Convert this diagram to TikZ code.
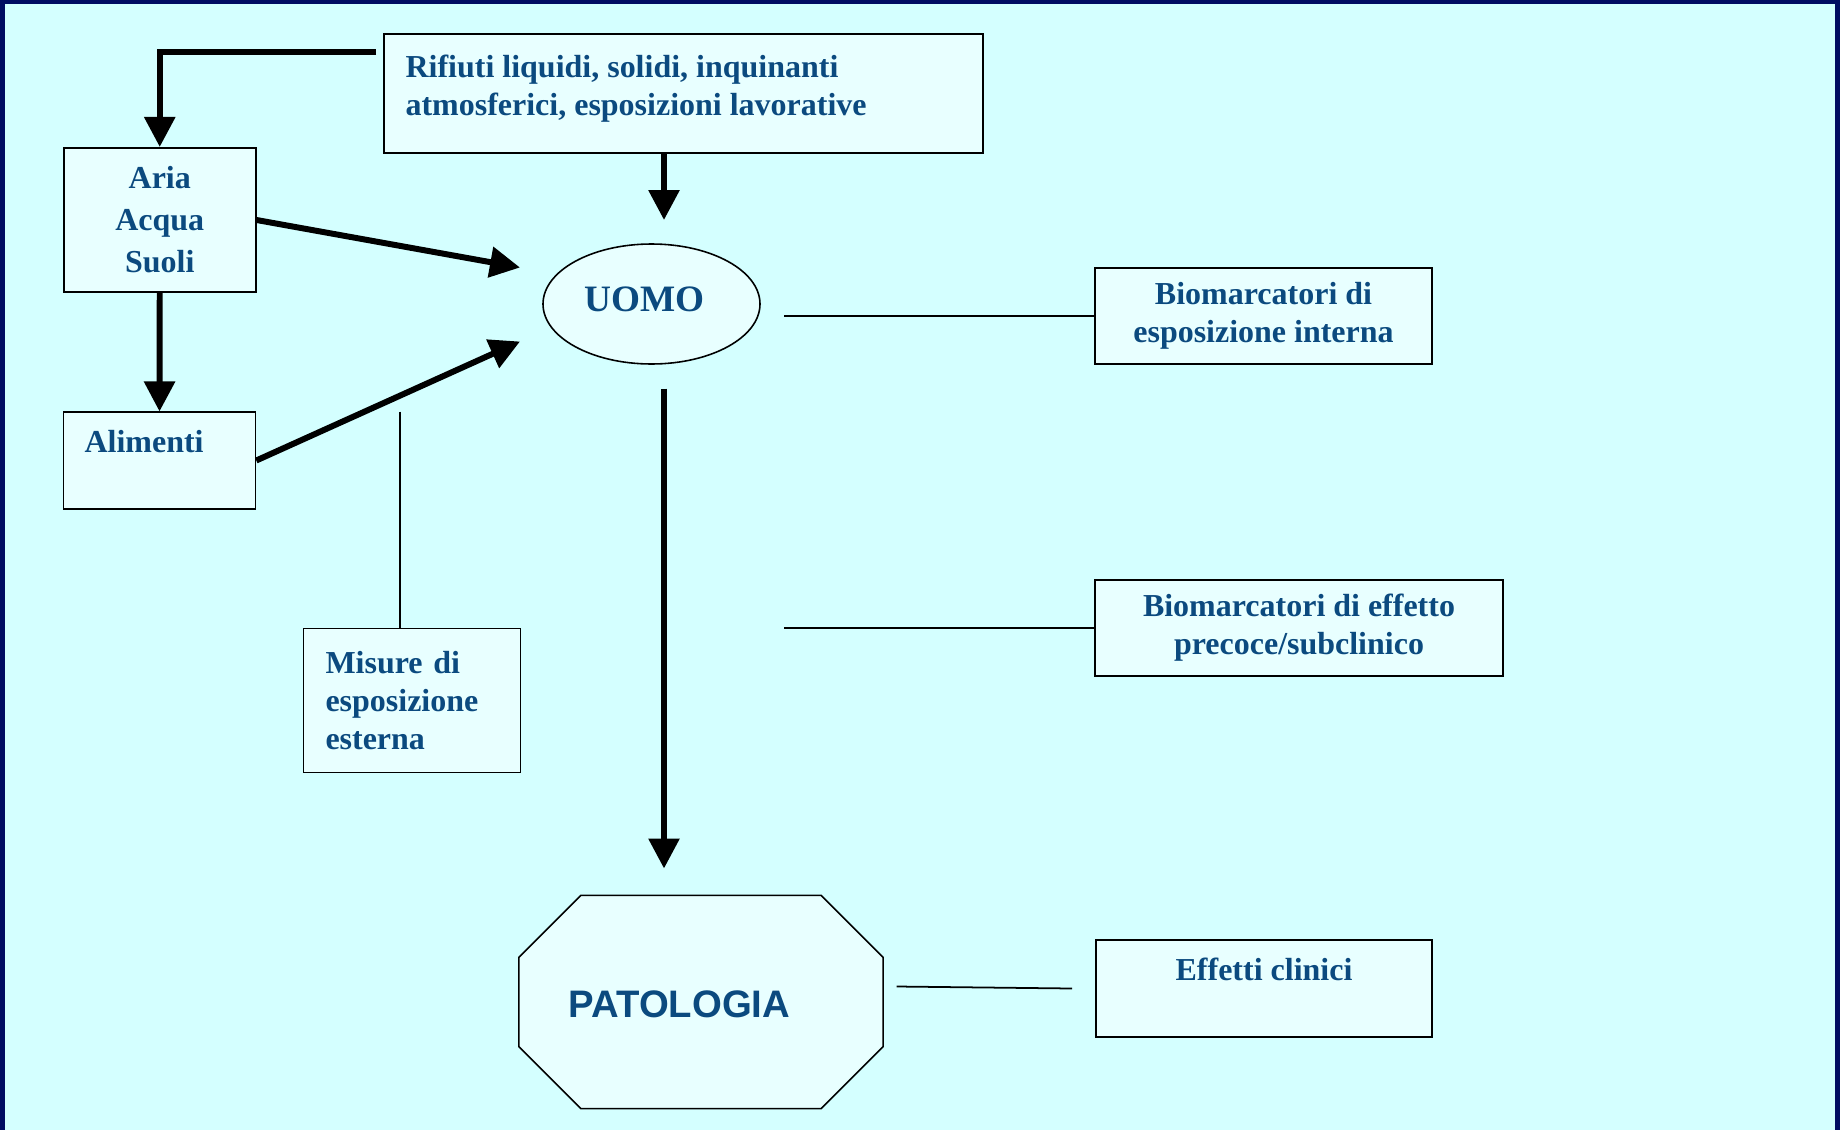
\documentclass[tikz,border=0pt]{standalone}
\usepackage{fontspec}
\setmainfont{Liberation Serif}
\newfontfamily\patfont{Liberation Sans}
\usepackage{tikz}
\usetikzlibrary{positioning,arrows.meta,calc,shapes.geometric}
\definecolor{framenavy}{HTML}{000C62}
\definecolor{bgcyan}{HTML}{D4FFFF}
\definecolor{nodefill}{HTML}{E8FFFF}
\definecolor{labelblue}{HTML}{0B4A7F}

\tikzset{
  box/.style={draw=black,line width=0.9pt,fill=nodefill,inner sep=0pt},
  boxtext/.style={font=\bfseries\fontsize{18.2}{21.6}\selectfont,text=labelblue,inner sep=0pt},
  flow/.style={line width=3.4pt,-{Triangle[width=0.6cm,length=0.6cm]}},
  tie/.style={line width=1pt}
}

\begin{document}
\begin{tikzpicture}

\useasboundingbox (0,0) rectangle (36.8,-22.6);
\fill[framenavy] (0,0) rectangle (36.8,-22.6);
\fill[bgcyan] (0.1,-0.08) rectangle (36.7,-22.6);

\node[box,minimum width=11.98cm,minimum height=2.38cm] (rifiuti) at (13.67,-1.87) {};
\node[boxtext,anchor=west,align=left] (rifiutitext)
      at ($(rifiuti.north west)+(0.44,-1.10)$)
{Rifiuti liquidi, solidi, inquinanti\\
atmosferici, esposizioni lavorative};

\node[box,boxtext,font=\bfseries\fontsize{18.2}{23.9}\selectfont,align=center,
      minimum width=3.84cm,minimum height=2.89cm] (aria) at (3.195,-4.40)
{Aria\\Acqua\\Suoli};

\node[box,minimum width=3.84cm,minimum height=1.93cm] (alimenti) at (3.19,-9.21) {};
\node[boxtext,anchor=west] (alimentitext)
      at ($(alimenti.north west)+(0.43,-0.60)$) {Alimenti};

\node[box,ellipse,minimum width=4.34cm,minimum height=2.40cm] (uomo) at (13.03,-6.08) {};
\node[boxtext,font=\bfseries\fontsize{21.2}{25}\selectfont]
      (uomotext) at ($(uomo.center)+(-0.14,0.10)$) {UOMO};

\node[box,boxtext,align=left,text width=3.46cm,
      minimum width=4.34cm,minimum height=2.88cm] (misure) at (8.24,-14.01)
{Misure di\\esposizione\\esterna};

\node[box,boxtext,align=center,minimum width=6.73cm,minimum height=1.93cm]
      (biointerna) at (25.27,-6.32) {Biomarcatori di\\esposizione interna};
\node[box,boxtext,align=center,minimum width=8.15cm,minimum height=1.93cm]
      (bioeffetto) at (25.98,-12.56) {Biomarcatori di effetto\\precoce/subclinico};

\node[box,minimum width=6.73cm,minimum height=1.93cm] (effetti) at (25.28,-19.77) {};
\node[boxtext] (effettitext) at ($(effetti.north)+(0,-0.60)$) {Effetti clinici};

\node[minimum width=7.27cm,minimum height=4.25cm,inner sep=0pt] (patologia) at (14.02,-20.04) {};
\draw[box] ($(patologia.north west)+(1.24,0)$) -- ($(patologia.north east)+(-1.24,0)$)
  -- ($(patologia.north east)+(0,-1.24)$) -- ($(patologia.south east)+(0,1.24)$)
  -- ($(patologia.south east)+(-1.24,0)$) -- ($(patologia.south west)+(1.24,0)$)
  -- ($(patologia.south west)+(0,1.24)$) -- ($(patologia.north west)+(0,-1.24)$) -- cycle;
\node[boxtext,font=\patfont\bfseries\fontsize{21.8}{25}\selectfont]
      (patologiatext) at ($(patologia.center)+(-0.43,-0.05)$) {PATOLOGIA};

\coordinate (rifiutiexit) at (7.52,-1.04);
\coordinate (uomoin) at (13.28,-4.40);
\coordinate (ariatip) at (10.40,-5.35);
\coordinate (alimentitip) at (10.40,-6.83);
\coordinate (uomoout) at (13.28,-7.77);
\coordinate (patologiain) at (13.28,-17.37);

\draw[flow] (rifiutiexit) -| (aria.north);
\draw[flow] (rifiuti.south -| uomoin) -- (uomoin);
\draw[flow] (aria.east) -- (ariatip);
\draw[flow] (alimenti.east) -- (alimentitip);
\draw[flow] (aria.south) -- (alimenti.north);
\draw[flow] (uomoout) -- (patologiain);

\coordinate (misuretop) at (8.00,-8.23);
\coordinate (interna) at (15.68,-6.32);
\coordinate (effetto) at (15.68,-12.56);
\coordinate (clinicistart) at (17.93,-19.73);
\coordinate (cliniciend) at (21.44,-19.77);

\draw[tie] (misuretop) -- (misuretop |- misure.north);
\draw[tie] (interna) -- (biointerna.west);
\draw[tie] (effetto) -- (bioeffetto.west);
\draw[tie] (clinicistart) -- (cliniciend);

\end{tikzpicture}
\end{document}
